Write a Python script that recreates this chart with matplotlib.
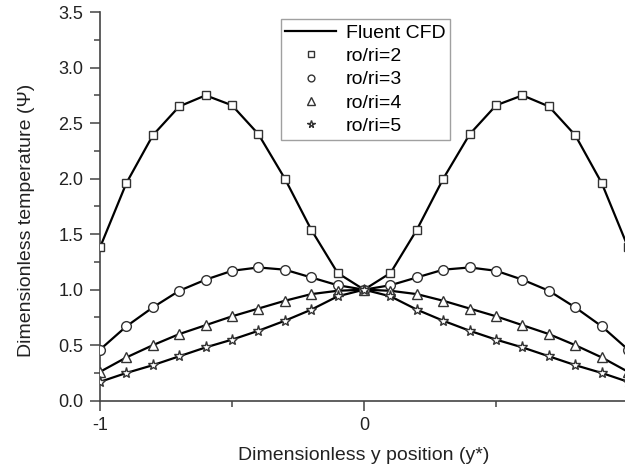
import matplotlib
matplotlib.use("Agg")
import matplotlib.pyplot as plt
from matplotlib.ticker import MultipleLocator

plt.rcParams["font.family"] = ["Liberation Sans", "DejaVu Sans"]

# dimensionless y position, marker points
y_pos = [-1.0, -0.9, -0.8, -0.7, -0.6, -0.5, -0.4, -0.3, -0.2, -0.1, 0.0,
         0.1, 0.2, 0.3, 0.4, 0.5, 0.6, 0.7, 0.8, 0.9, 1.0]

# dimensionless temperature
psi_r2 = [1.38, 1.96, 2.39, 2.65, 2.75, 2.66, 2.40, 2.00, 1.54, 1.15, 1.00,
          1.15, 1.54, 2.00, 2.40, 2.66, 2.75, 2.65, 2.39, 1.96, 1.38]
psi_r3 = [0.46, 0.67, 0.84, 0.99, 1.09, 1.17, 1.20, 1.18, 1.11, 1.04, 1.00,
          1.04, 1.11, 1.18, 1.20, 1.17, 1.09, 0.99, 0.84, 0.67, 0.46]
psi_r4 = [0.26, 0.39, 0.50, 0.60, 0.68, 0.76, 0.83, 0.90, 0.96, 0.99, 1.00,
          0.99, 0.96, 0.90, 0.83, 0.76, 0.68, 0.60, 0.50, 0.39, 0.26]
psi_r5 = [0.17, 0.25, 0.32, 0.40, 0.48, 0.55, 0.63, 0.72, 0.82, 0.94, 1.00,
          0.94, 0.82, 0.72, 0.63, 0.55, 0.48, 0.40, 0.32, 0.25, 0.17]

series = [psi_r2, psi_r3, psi_r4, psi_r5]
labels = ["ro/ri=2", "ro/ri=3", "ro/ri=4", "ro/ri=5"]
markers = ["s", "o", "^", "*"]
msizes = [6, 7, 7.5, 8]

fig = plt.figure(figsize=(6.25, 4.74), dpi=100)
ax = fig.add_axes([0.16, 0.1546, 0.845, 0.82])

# CFD lines
for i, vals in enumerate(series):
    ax.plot(y_pos, vals, color="black", lw=1.6, zorder=2,
            label="Fluent CFD" if i == 0 else None)

# analytical points
for vals, lab, m, ms in zip(series, labels, markers, msizes):
    ax.plot(y_pos, vals, linestyle="none", marker=m, ms=ms, mfc="white",
            mec="#333333", mew=1.0, zorder=3, label=lab)

ax.set_xlim(-1, 1)
ax.set_ylim(0, 3.5)
# the x=1 end falls just outside the picture, as in the original
ax.set_xticks([-1, 0])
ax.set_xticklabels(["-1", "0"])
ax.xaxis.set_minor_locator(MultipleLocator(0.5))
ax.yaxis.set_major_locator(MultipleLocator(0.5))
ax.yaxis.set_minor_locator(MultipleLocator(0.25))

for s in ["top", "right"]:
    ax.spines[s].set_visible(False)
for s in ["left", "bottom"]:
    ax.spines[s].set_color("#444444")
    ax.spines[s].set_linewidth(1.2)
ax.tick_params(which="major", direction="out", length=7, width=1.1,
               color="#444444", labelsize=13, labelcolor="#222222", pad=5)
ax.tick_params(which="minor", direction="out", length=4, width=1.1,
               color="#444444")

ax.set_xlabel("Dimensionless y position (y*)", fontsize=14, color="#222222",
              va="center")
ax.set_ylabel("Dimensionless temperature (\u03a8)", fontsize=14,
              color="#222222", va="center")
ax.xaxis.set_label_coords(0.5, -0.142)
ax.yaxis.set_label_coords(-0.14, 0.465)

handles, labs = ax.get_legend_handles_labels()
leg = ax.legend(handles, labs, loc="upper left", bbox_to_anchor=(0.342, 0.982),
                fontsize=14, frameon=True, fancybox=False, markerscale=0.7,
                handlelength=2.6, handletextpad=0.5, labelspacing=0.3,
                borderpad=0.25, borderaxespad=0)
leg.get_frame().set_edgecolor("#888888")
leg.get_frame().set_linewidth(1.0)

fig.savefig("out.png", dpi=100)
